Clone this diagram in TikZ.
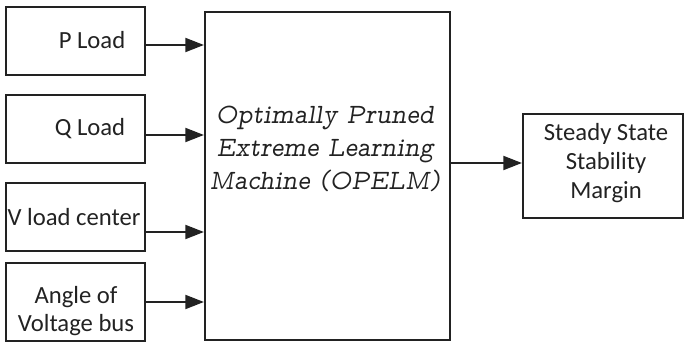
\documentclass[tikz,border=0pt]{standalone}
\usepackage{fontspec}
\usepackage{graphicx}
\setmainfont{Carlito}
\usetikzlibrary{arrows.meta,calc}
\definecolor{ink}{HTML}{222222}
\tikzset{
  box/.style={draw=ink, line width=1.6pt, rectangle, inner sep=0pt},
  arr/.style={draw=ink, line width=1.6pt, -{Triangle[length=14pt,width=10.5pt]}},
  lbl/.style={text=ink, align=center, inner sep=0pt, font=\fontsize{18.5}{21}\selectfont},
}
\begin{document}
\begin{tikzpicture}[x=0.75pt,y=-0.75pt]
\useasboundingbox (0,0) rectangle (689,348);
\node[box, minimum width=104.25pt, minimum height=51pt] (p) at (75.5,41) {};
\node[box, minimum width=104.25pt, minimum height=51pt] (q) at (75.5,129) {};
\node[box, minimum width=104.25pt, minimum height=51pt] (v) at (75.5,217) {};
\node[box, minimum width=104.25pt, minimum height=58.5pt] (a) at (75.5,302) {};
\node[box, minimum width=183.75pt, minimum height=246pt] (m) at (327.5,176) {};
\node[box, minimum width=120pt, minimum height=78pt] (s) at (603,166) {};

\node[lbl] (pt) at (92,40) {P Load};
\node[lbl] (qt) at (90,129) {Q Load};
\node[lbl] (vt) at (74,217) {V load center};
\node[lbl, font=\fontsize{18.5}{21.5}\selectfont] (at) at (76,311) {Angle of\\Voltage bus};
\node[lbl, font=\fontsize{18.5}{22}\selectfont] (st) at (606,163) {Steady State\\Stability\\Margin};
\node[text=ink, inner sep=0pt, font=\fontsize{21}{24.75}\fontfamily{lmvtt}\selectfont\slshape] (mt) at (325,150) {\scalebox{0.94}[1]{\begin{tabular}{@{}c@{}}Optimally Pruned\\Extreme Learning\\Machine (OPELM)\end{tabular}}};

\draw[arr] (p.east |- 0,45) -- (m.west |- 0,45);
\draw[arr] (q.east |- 0,135) -- (m.west |- 0,135);
\draw[arr] (v.east |- 0,232) -- (m.west |- 0,232);
\draw[arr] (a.east |- 0,302) -- (m.west |- 0,302);
\draw[arr] (m.east |- 0,163) -- (s.west |- 0,163);
\end{tikzpicture}
\end{document}
